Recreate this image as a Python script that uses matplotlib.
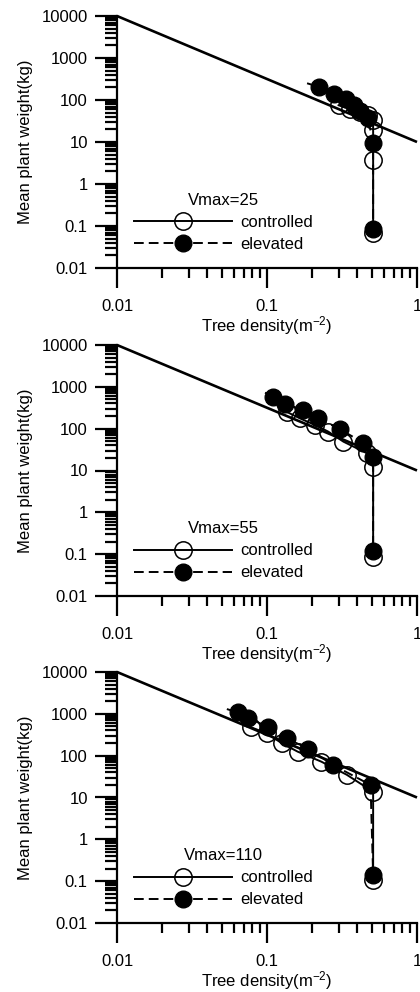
import numpy as np
import matplotlib
matplotlib.use("Agg")
import matplotlib.pyplot as plt
from matplotlib.ticker import LogLocator, FixedLocator, FixedFormatter, NullFormatter

plt.rcParams['font.family'] = ['Liberation Sans', 'DejaVu Sans']
plt.rcParams['mathtext.default'] = 'regular'

# self-thinning reference line (-3/2 slope)
thin_x = [0.01, 1.0]
thin_y = [10000, 10]

vmax_labels = [25, 55, 110]

# Panel 1 (Vmax=25)
ctrl1_x = [0.30, 0.36, 0.42, 0.47, 0.51, 0.51, 0.51, 0.51]
ctrl1_y = [75, 60, 52, 45, 33, 19.5, 3.7, 0.07]
elev1_x = [0.185, 0.223, 0.28, 0.335, 0.38, 0.42, 0.47, 0.51, 0.51]
elev1_y = [250, 205, 140, 105, 75, 55, 37, 9.6, 0.085]

# Panel 2 (Vmax=55)
ctrl2_x = [0.135, 0.166, 0.209, 0.256, 0.323, 0.462, 0.51, 0.51]
ctrl2_y = [253, 176, 122, 85, 49, 26, 12.3, 0.087]
elev2_x = [0.097, 0.110, 0.132, 0.175, 0.22, 0.307, 0.439, 0.51, 0.51]
elev2_y = [725, 580, 388, 279, 176, 96, 46, 21, 0.12]

# Panel 3 (Vmax=110)
ctrl3_x = [0.078, 0.10, 0.125, 0.16, 0.23, 0.34, 0.51, 0.51]
ctrl3_y = [480, 340, 200, 125, 72, 35, 13.7, 0.106]
elev3_x = [0.054, 0.064, 0.075, 0.102, 0.135, 0.188, 0.275, 0.49, 0.51]
elev3_y = [1300, 1080, 780, 490, 258, 148, 60, 20, 0.14]

ctrl_x = [ctrl1_x, ctrl2_x, ctrl3_x]
ctrl_y = [ctrl1_y, ctrl2_y, ctrl3_y]
elev_x = [elev1_x, elev2_x, elev3_x]
elev_y = [elev1_y, elev2_y, elev3_y]

x_ticks = [0.01, 0.1, 1]
x_ticklabels = ['0.01', '0.1', '1']
y_ticks = [0.01, 0.1, 1, 10, 100, 1000, 10000]
y_ticklabels = ['0.01', '0.1', '1', '10', '100', '1000', '10000']

W, H = 420, 992
fig = plt.figure(figsize=(W / 100, H / 100), dpi=100)

panel_px = [(16, 268), (345, 596), (672, 923)]
left_px, right_px = 117, 417
FS = 12

for i, (top, bot) in enumerate(panel_px):
    ax = fig.add_axes([left_px / W, 1 - bot / H, (right_px - left_px) / W, (bot - top) / H])
    ax.set_xscale('log')
    ax.set_yscale('log')
    ax.set_xlim(0.01, 1)
    ax.set_ylim(0.01, 10000)

    ax.plot(thin_x, thin_y, color='black', lw=1.9, zorder=2, clip_on=False,
            solid_capstyle='butt')
    ax.plot(ctrl_x[i], ctrl_y[i], color='black', lw=1.4, ls='-',
            marker='o', ms=12.5, mfc='none', mec='black', mew=1.1,
            label='controlled', zorder=3, clip_on=False)
    ax.plot(elev_x[i], elev_y[i], color='black', lw=1.4, ls=(0, (5, 2.6)),
            marker='o', ms=12, mfc='black', mec='black', mew=1.0,
            markevery=slice(1, None), label='elevated', zorder=4, clip_on=False)

    for s in ['top', 'right']:
        ax.spines[s].set_visible(False)
    for s in ['left', 'bottom']:
        ax.spines[s].set_linewidth(1.6)

    ax.xaxis.set_major_locator(FixedLocator(x_ticks))
    ax.xaxis.set_major_formatter(FixedFormatter(x_ticklabels))
    ax.xaxis.set_minor_locator(LogLocator(base=10, subs=np.arange(2, 10), numticks=20))
    ax.xaxis.set_minor_formatter(NullFormatter())
    ax.yaxis.set_major_locator(FixedLocator(y_ticks))
    ax.yaxis.set_major_formatter(FixedFormatter(y_ticklabels))
    ax.yaxis.set_minor_locator(LogLocator(base=10, subs=np.arange(2, 10), numticks=20))
    ax.yaxis.set_minor_formatter(NullFormatter())

    ax.tick_params(axis='both', which='major', direction='out', width=1.6, labelsize=FS)
    ax.tick_params(axis='x', which='major', length=14.5, pad=8)
    ax.tick_params(axis='y', which='major', length=16, pad=5)
    ax.tick_params(axis='x', which='minor', direction='out', length=7.5, width=1.6)
    ax.tick_params(axis='y', which='minor', direction='out', length=8.5, width=1.6)

    ax.set_xlabel('Tree density(m$^{-2}$)', fontsize=FS, labelpad=0)
    ax.set_ylabel('Mean plant weight(kg)', fontsize=FS, labelpad=6)

    leg = ax.legend(title=f'Vmax={vmax_labels[i]}', frameon=False, loc='upper left',
                    bbox_to_anchor=(0.055, 0.297), borderaxespad=0, borderpad=0,
                    handlelength=5.9, handletextpad=0.5, labelspacing=0.42,
                    fontsize=FS, title_fontsize=FS)

fig.savefig('out.png', dpi=100)
